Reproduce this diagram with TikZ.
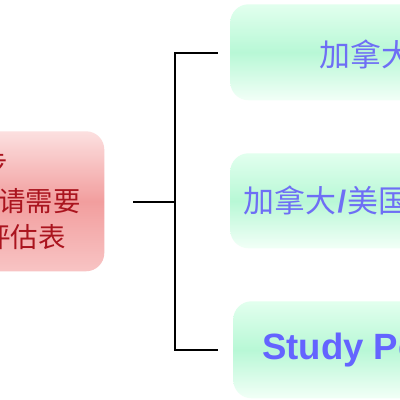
\documentclass[tikz,border=0pt]{standalone}
\usepackage{fontspec}
\setmainfont{Liberation Sans}
\newfontfamily\cjk{Noto Sans CJK SC}
\definecolor{pinkTop}{RGB}{252,224,224}
\definecolor{pinkMid}{RGB}{242,158,158}
\definecolor{pinkBot}{RGB}{248,196,196}
\definecolor{greenTop}{RGB}{226,255,238}
\definecolor{greenMid}{RGB}{184,248,214}
\definecolor{greenBot}{RGB}{242,255,247}
\definecolor{redText}{RGB}{170,20,30}
\definecolor{blueText}{RGB}{110,110,245}
\definecolor{blueBold}{RGB}{100,100,255}
\tikzset{
  x=0.025cm, y=-0.025cm,
  pinkbox/.style={rounded corners=13, top color=pinkTop, bottom color=pinkBot, middle color=pinkMid, draw=none},
  greenbox/.style={rounded corners=13, top color=greenTop, bottom color=greenBot, middle color=greenMid, draw=none},
  redline/.style={font=\cjk\fontsize{19.5pt}{19.5pt}\selectfont, text=redText, inner sep=0pt},
  cjkblue/.style={font=\cjk\fontsize{22pt}{22pt}\selectfont, text=blueText, inner sep=0pt, anchor=west},
  latinblue/.style={font=\bfseries\fontsize{26pt}{26pt}\selectfont, text=blueBold, inner sep=0pt, anchor=west},
  link/.style={draw=black, line width=1.6pt},
}
\begin{document}
\begin{tikzpicture}
\useasboundingbox (0,0) rectangle (400,400);
\clip (0,0) rectangle (400,400);
\fill[white] (0,0) rectangle (400,400);
% boxes
\node[pinkbox, minimum width=164*0.025cm, minimum height=140*0.025cm, anchor=north west] (left) at (-60,131) {};
\node[greenbox, minimum width=200*0.025cm, minimum height=96*0.025cm, anchor=north west] (b1) at (230,4) {};
\node[greenbox, minimum width=200*0.025cm, minimum height=95*0.025cm, anchor=north west] (b2) at (230,153) {};
\node[greenbox, minimum width=200*0.025cm, minimum height=97*0.025cm, anchor=north west] (b3) at (233,301) {};
% left text
\node[redline, anchor=east] (l1) at (8,164) {第一步};
\node[redline, anchor=east] (l2) at (81,201) {申请需要};
\node[redline, anchor=east] (l3) at (66,237) {评估表};
% right texts
\node[cjkblue] (t1) at (319,54) {加拿大};
\node[cjkblue] (t2) at (243,200) {加拿大\hspace{1pt}{\bfseries\fontspec{Liberation Sans}/}\hspace{1pt}美国};
\node[latinblue] (t3) at (262,350) {Study Permit};
% connectors
\coordinate (stub) at (133,202);
\coordinate (mid) at (175,202);
\coordinate (top) at (175,53);
\coordinate (bot) at (175,350);
\coordinate (topend) at (217,53);
\coordinate (botend) at (217,350);
\draw[link] (stub) -- (mid);
\draw[link, line cap=rect] (topend) -- (top) -- (bot) -- (botend);
\end{tikzpicture}
\end{document}
